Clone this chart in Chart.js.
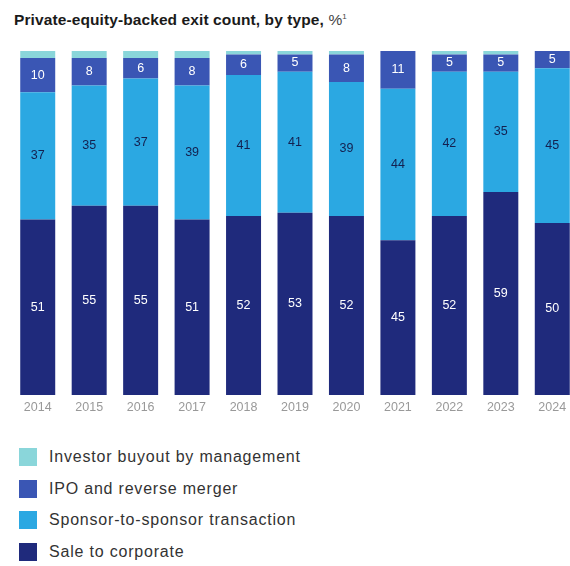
<!DOCTYPE html>
<html>
<head>
<meta charset="utf-8">
<script src="https://cdn.jsdelivr.net/npm/chart.js@4"></script>
<style>
  html, body { margin: 0; padding: 0; background: #fff; overflow: hidden; }
  body { width: 570px; height: 566px; position: relative; font-family: "Liberation Sans", Arial, sans-serif; }
  #title { position: absolute; left: 14px; top: 11px; font-size: 15.5px; letter-spacing: 0.1px; font-weight: bold; color: #1a1a1a; white-space: nowrap; }
  #title .unit { font-weight: normal; color: #444; }
  #title sup { font-size: 8px; }
  #wrap { position: absolute; left: 0; top: 40px; width: 580px; height: 380px; }
  #legend { position: absolute; left: 19px; top: 441px; }
  .item { display: flex; align-items: center; height: 31.8px; font-size: 16px; letter-spacing: 0.8px; color: #333; }
  .swatch { width: 18px; height: 18px; margin-right: 12px; }
</style>
</head>
<body>
<div id="title">Private-equity-backed exit count, by type, <span class="unit">%<sup>1</sup></span></div>
<div id="wrap"><canvas id="chart"></canvas></div>
<div id="legend"></div>
<script>
const years = ['2014', '2015', '2016', '2017', '2018', '2019', '2020', '2021', '2022', '2023', '2024']
const saleToCorporate = [51, 55, 55, 51, 52, 53, 52, 45, 52, 59, 50]
const sponsorToSponsor = [37, 35, 37, 39, 41, 41, 39, 44, 42, 35, 45]
const ipoReverseMerger = [10, 8, 6, 8, 6, 5, 8, 11, 5, 5, 5]
const managementBuyout = [2, 2, 2, 2, 1, 1, 1, 0, 1, 1, 0]

const datasets = [
  { label: 'Sale to corporate', data: saleToCorporate, backgroundColor: '#1f2a7c', labelColor: '#ffffff' },
  { label: 'Sponsor-to-sponsor transaction', data: sponsorToSponsor, backgroundColor: '#2ba8e2', labelColor: '#14204f' },
  { label: 'IPO and reverse merger', data: ipoReverseMerger, backgroundColor: '#3a56b4', labelColor: '#ffffff' },
  { label: 'Investor buyout by management', data: managementBuyout, backgroundColor: '#8ad6da', labelColor: null }
]

// legend is listed top-down, reverse of the stacking order
const legend = document.getElementById('legend')
datasets.slice().reverse().forEach(ds => {
  const row = document.createElement('div')
  row.className = 'item'
  row.innerHTML = `<span class="swatch" style="background:${ds.backgroundColor}"></span>${ds.label}`
  legend.appendChild(row)
})

// writes each segment's value in the middle of the segment
const segmentLabels = {
  id: 'segmentLabels',
  afterDatasetsDraw(chart) {
    const ctx = chart.ctx
    ctx.save()
    ctx.font = '12.5px "Liberation Sans", Arial, sans-serif'
    ctx.textAlign = 'center'
    ctx.textBaseline = 'middle'
    chart.data.datasets.forEach((ds, i) => {
      if (!ds.labelColor) return
      ctx.fillStyle = ds.labelColor
      chart.getDatasetMeta(i).data.forEach((bar, j) => {
        const v = ds.data[j]
        if (!v) return
        ctx.fillText(v, bar.x, (bar.y + bar.base) / 2)
      })
    })
    ctx.restore()
  }
}

new Chart(document.getElementById('chart'), {
  type: 'bar',
  data: {
    labels: years,
    datasets: datasets.map(ds => ({ ...ds, borderWidth: 0, barPercentage: 0.68, categoryPercentage: 1 }))
  },
  options: {
    responsive: true,
    maintainAspectRatio: false,
    animation: { duration: 0 },
    layout: { padding: { left: 12, right: 2, top: 11, bottom: 0 } },
    scales: {
      x: {
        stacked: true,
        grid: { display: false, drawTicks: false },
        border: { display: false },
        ticks: { color: '#999999', font: { size: 12.5, family: '"Liberation Sans", Arial, sans-serif' }, padding: 5 }
      },
      y: { stacked: true, display: false, min: 0, max: 100 }
    },
    plugins: {
      legend: { display: false },
      tooltip: { enabled: false }
    }
  },
  plugins: [segmentLabels]
})
</script>
</body>
</html>
